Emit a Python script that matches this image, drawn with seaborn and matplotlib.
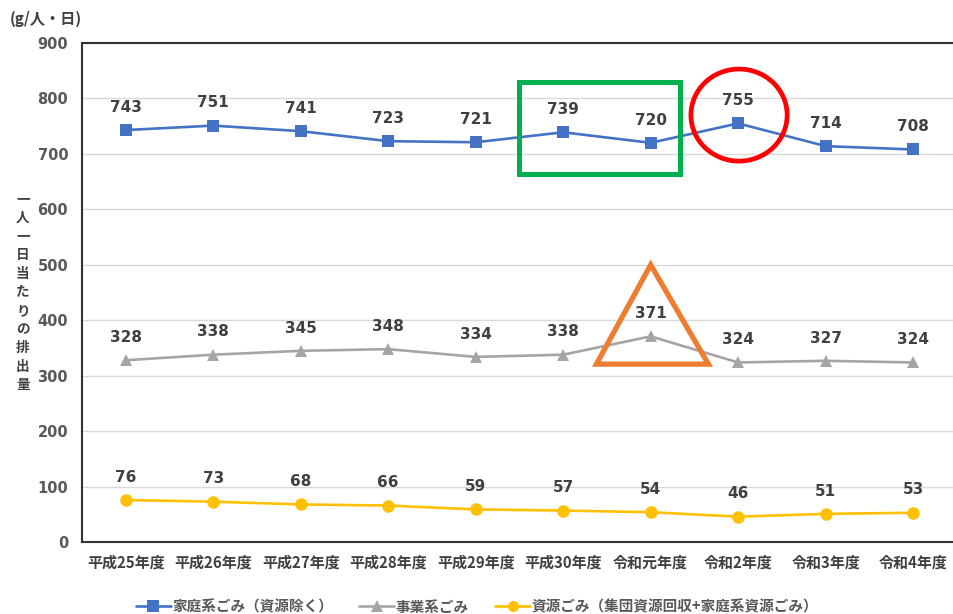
import matplotlib
matplotlib.use("Agg")
import matplotlib.pyplot as plt
from matplotlib.patches import Rectangle, Ellipse, Polygon
import pandas as pd
import seaborn as sns

# Fiscal years
years = ["平成25年度", "平成26年度", "平成27年度", "平成28年度", "平成29年度",
         "平成30年度", "令和元年度", "令和2年度", "令和3年度", "令和4年度"]

# Per-capita daily waste (g/person/day)
household = [743, 751, 741, 723, 721, 739, 720, 755, 714, 708]
business = [328, 338, 345, 348, 334, 338, 371, 324, 327, 324]
recycling = [76, 73, 68, 66, 59, 57, 54, 46, 51, 53]

series_names = ["家庭系ごみ（資源除く）", "事業系ごみ", "資源ごみ（集団資源回収+家庭系資源ごみ）"]
series_values = [household, business, recycling]

y_ticks = [0, 100, 200, 300, 400, 500, 600, 700, 800, 900]

sns.set_theme(style="white")
plt.rcParams["font.family"] = ["Noto Sans CJK JP", "DejaVu Sans"]

colors = {series_names[0]: "#4472C4", series_names[1]: "#A5A5A5", series_names[2]: "#FFC000"}
markers = {series_names[0]: "s", series_names[1]: "^", series_names[2]: "o"}

rows = []
for name, vals in zip(series_names, series_values):
    for i, v in enumerate(vals):
        rows.append({"年度": i, "系列": name, "値": v})
df = pd.DataFrame(rows)

fig = plt.figure(figsize=(9.54, 6.14), dpi=100)
ax = fig.add_axes([0.086, 0.117, 0.917, 0.813])

sns.lineplot(data=df, x="年度", y="値", hue="系列", style="系列",
             palette=colors, markers=markers, dashes=False,
             markersize=9, markeredgewidth=0, linewidth=1.9,
             ax=ax, legend=False, zorder=3)

# data labels
for vals in series_values:
    for i, v in enumerate(vals):
        ax.annotate(f"{v}", (i, v), xytext=(0, 11), textcoords="offset points",
                    ha="center", va="bottom", fontsize=11, fontweight="bold",
                    family="DejaVu Sans", color="#404040")

ax.set_xlim(-0.5, 9.5)
ax.set_ylim(0, 900)
ax.set_yticks(y_ticks)
ax.set_yticklabels([str(t) for t in y_ticks], fontsize=10.5, fontweight="bold",
                   family="DejaVu Sans", color="#595959")
ax.set_xticks(range(len(years)))
ax.set_xticklabels(years, fontsize=10.8, fontweight="bold", color="#404040")
ax.tick_params(axis="x", length=0, pad=9)
ax.tick_params(axis="y", length=0, pad=10)
ax.set_xlabel("")
ax.set_ylabel("")

ax.grid(axis="y", color="#D9D9D9", linewidth=1)
ax.set_axisbelow(True)
for side in ["left", "top", "bottom"]:
    ax.spines[side].set_color("#333333")
    ax.spines[side].set_linewidth(1.5)
ax.spines["right"].set_visible(False)

# highlight shapes
ax.add_patch(Rectangle((4.50, 663), 1.83, 166, fill=False, edgecolor="#00B050",
                       linewidth=3.6, zorder=5, clip_on=False))
ax.add_patch(Ellipse((7.01, 770), 1.10, 166, fill=False, edgecolor="#FF0000",
                     linewidth=3.4, zorder=5, clip_on=False))
ax.add_patch(Polygon([(6.0, 500), (5.38, 321), (6.66, 321)], closed=True, fill=False,
                     edgecolor="#ED7D31", linewidth=3.8, joinstyle="miter", zorder=5))

# unit and vertical axis title
fig.text(0.010, 0.970, "(g/人・日)", fontsize=11, fontweight="bold", color="#404040",
         ha="left", va="center")
fig.text(0.024, 0.524, "\n".join("一人一日当たりの排出量"), fontsize=9.8, fontweight="bold",
         color="#404040", ha="center", va="center", linespacing=1.42)

handles = [plt.Line2D([], [], color=colors[n], marker=markers[n], markersize=8,
                      markeredgewidth=0, linewidth=1.9) for n in series_names]
fig.legend(handles, series_names, loc="lower center", bbox_to_anchor=(0.5, -0.022),
           ncol=3, frameon=False, handlelength=2.4, handletextpad=0.1, columnspacing=1.8,
           prop={"size": 10.5, "weight": "bold"}, labelcolor="#595959")

fig.savefig("out.png", dpi=100)
